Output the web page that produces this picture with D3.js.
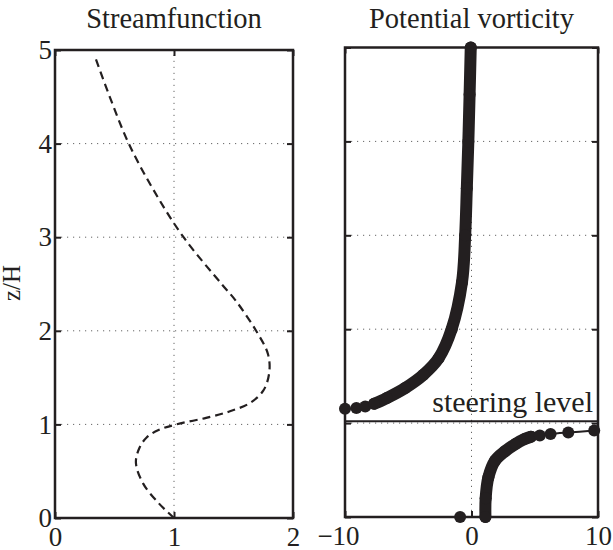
<!DOCTYPE html>
<html>
<head>
<meta charset="utf-8">
<script src="https://cdn.jsdelivr.net/npm/d3@7"></script>
<style>
  body { margin: 0; background: #fff; }
  text { font-family: "Liberation Serif", "Times New Roman", serif; fill: #231f20; }
</style>
</head>
<body>
<div id="chart"></div>
<script>
// streamfunction profile (dashed)
const psiZ   = [0, 0.16, 0.37, 0.59, 0.75, 0.86, 0.94, 1.0, 1.07, 1.14, 1.23, 1.36, 1.55, 1.75, 2.0, 2.32, 2.5, 3.0, 3.5, 4.0, 4.5, 4.95];
const psiVal = [1.0, 0.87, 0.74, 0.68, 0.71, 0.77, 0.87, 1.02, 1.27, 1.47, 1.64, 1.75, 1.80, 1.79, 1.69, 1.52, 1.40, 1.08, 0.83, 0.62, 0.46, 0.33];

// potential vorticity, branch above the steering level
const pvUpperZ   = [1.153, 1.16, 1.178, 1.206, 1.267, 1.373, 1.515, 1.69, 2.0, 2.5, 3.0, 3.5, 4.0, 4.5, 5.0];
const pvUpperVal = [-10, -9.1, -8.4, -7.7, -6.7, -5.25, -3.8, -2.6, -1.57, -0.75, -0.5, -0.37, -0.25, -0.15, -0.06];
// branch below the steering level
const pvLowerZ   = [0, 0.2, 0.42, 0.6, 0.7, 0.78, 0.83, 0.855, 0.868, 0.884, 0.90, 0.92];
const pvLowerVal = [1.1, 1.12, 1.33, 1.86, 2.65, 3.5, 4.2, 4.7, 5.4, 6.25, 7.65, 9.7];
// surface value
const pvSurfZ = [0];
const pvSurfVal = [-0.9];

const steeringLevel = 1.02;

const zTicks = [0, 1, 2, 3, 4, 5];
const psiTicks = [0, 1, 2];
const pvTicks = [-10, 0, 10];

const ink = "#231f20";

const svg = d3.select("#chart")
  .append("svg")
    .attr("width", 613)
    .attr("height", 550);

// scales
const xPsi = d3.scaleLinear().domain([0, 2]).range([55, 293]);
const yPsi = d3.scaleLinear().domain([0, 5]).range([518, 50]);
const xPv  = d3.scaleLinear().domain([-10, 10]).range([345, 598]);
const yPv  = d3.scaleLinear().domain([0, 5]).range([517, 47.5]);

const fmt = d => d < 0 ? "\u2212" + Math.abs(d) : String(d);

function panel(x, y, xTicks, yLabels, title) {
  const g = svg.append("g");
  const [x0, x1] = x.range(), [y0, y1] = y.range();

  // dotted grid
  g.selectAll(".gx")
    .data(xTicks.filter(d => d !== x.domain()[0] && d !== x.domain()[1]))
    .enter().append("line")
      .attr("x1", d => x(d)).attr("x2", d => x(d))
      .attr("y1", y0).attr("y2", y1)
      .attr("stroke", "#666").attr("stroke-width", 1)
      .attr("stroke-dasharray", "1.2,4.8");
  g.selectAll(".gy")
    .data(zTicks.filter(d => d !== 0 && d !== 5))
    .enter().append("line")
      .attr("x1", x0).attr("x2", x1)
      .attr("y1", d => y(d)).attr("y2", d => y(d))
      .attr("stroke", "#666").attr("stroke-width", 1)
      .attr("stroke-dasharray", "1.2,4.8");

  // axes with inward ticks
  const style = a => a.call(s => s.select(".domain").remove())
    .call(s => s.selectAll("line").attr("stroke", ink).attr("stroke-width", 2))
    .call(s => s.selectAll("text").attr("font-size", 27).style("font-family", "Liberation Serif").attr("fill", ink));

  g.append("g").attr("transform", `translate(0,${y0})`)
    .call(d3.axisBottom(x).tickValues(xTicks).tickSizeInner(-6).tickSizeOuter(0).tickPadding(9).tickFormat(fmt))
    .call(style)
    .call(s => s.selectAll("text").attr("dx", d => d < 0 ? -7 : 0));
  g.append("g").attr("transform", `translate(0,${y1})`)
    .call(d3.axisTop(x).tickValues(xTicks).tickSizeInner(-6).tickSizeOuter(0).tickFormat(""))
    .call(style);
  g.append("g").attr("transform", `translate(${x0},0)`)
    .call(d3.axisLeft(y).tickValues(zTicks).tickSizeInner(-6).tickSizeOuter(0).tickPadding(3).tickFormat(yLabels ? fmt : ""))
    .call(style);
  g.append("g").attr("transform", `translate(${x1},0)`)
    .call(d3.axisRight(y).tickValues(zTicks).tickSizeInner(-6).tickSizeOuter(0).tickFormat(""))
    .call(style);

  // box
  g.append("rect")
    .attr("x", x0).attr("y", y1)
    .attr("width", x1 - x0).attr("height", y0 - y1)
    .attr("fill", "none").attr("stroke", ink).attr("stroke-width", 2.5);

  g.append("text")
    .attr("x", (x0 + x1) / 2).attr("y", 28)
    .attr("text-anchor", "middle").attr("font-size", 28.5)
    .text(title);
  return g;
}

const left = panel(xPsi, yPsi, psiTicks, true, "Streamfunction");
const right = panel(xPv, yPv, pvTicks, false, "Potential vorticity");

// y label
svg.append("text")
  .attr("transform", "translate(20,283) rotate(-90)")
  .attr("text-anchor", "middle").attr("font-size", 25)
  .text("z/H");

// streamfunction, dashed
const psiData = psiZ.map((z, i) => ({ z, v: psiVal[i] }));
left.append("path")
  .datum(psiData)
  .attr("fill", "none").attr("stroke", ink).attr("stroke-width", 2.2)
  .attr("stroke-dasharray", "8,5")
  .attr("d", d3.line().x(d => xPsi(d.v)).y(d => yPsi(d.z)).curve(d3.curveCatmullRom.alpha(0.5)));

// potential vorticity
const pvLine = d3.line().x(d => xPv(d.v)).y(d => yPv(d.z)).curve(d3.curveCatmullRom.alpha(0.5));
const upper = pvUpperZ.map((z, i) => ({ z, v: pvUpperVal[i] }));
const lower = pvLowerZ.map((z, i) => ({ z, v: pvLowerVal[i] }));
const surf = pvSurfZ.map((z, i) => ({ z, v: pvSurfVal[i] }));

[upper, lower].forEach(d => {
  right.append("path").datum(d)
    .attr("fill", "none").attr("stroke", ink).attr("stroke-width", 2)
    .attr("d", pvLine);
});
// dense markers merge into a thick band
right.append("path").datum(upper.filter(d => d.v >= -7.7))
  .attr("fill", "none").attr("stroke", ink).attr("stroke-width", 12)
  .attr("stroke-linecap", "round").attr("d", pvLine);
right.append("path").datum(lower.filter(d => d.v <= 4.7))
  .attr("fill", "none").attr("stroke", ink).attr("stroke-width", 12)
  .attr("stroke-linecap", "round").attr("d", pvLine);

right.selectAll(".dot")
  .data(upper.concat(lower, surf))
  .enter().append("circle")
    .attr("cx", d => xPv(d.v))
    .attr("cy", d => yPv(d.z))
    .attr("r", 6)
    .attr("fill", ink);

// steering level
right.append("line")
  .attr("x1", xPv(-10)).attr("x2", xPv(10))
  .attr("y1", yPv(steeringLevel)).attr("y2", yPv(steeringLevel))
  .attr("stroke", ink).attr("stroke-width", 2);
right.append("text")
  .attr("x", xPv(10) - 5).attr("y", yPv(steeringLevel) - 9)
  .attr("text-anchor", "end").attr("font-size", 30)
  .text("steering level");
</script>
</body>
</html>
